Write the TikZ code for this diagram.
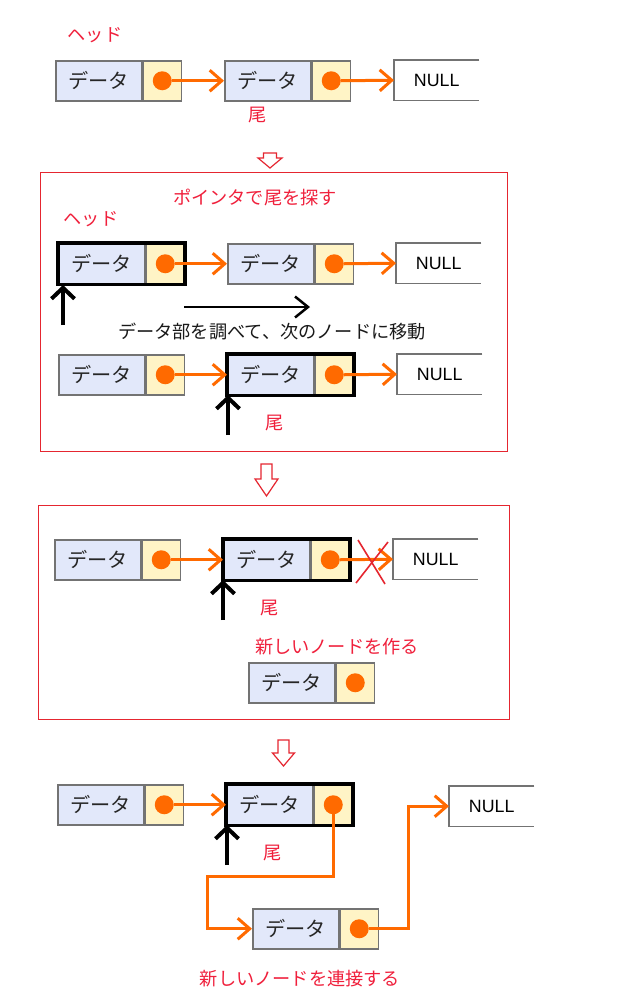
\documentclass[tikz,border=0pt]{standalone}
\usepackage{fontspec}
\setmainfont{Noto Sans CJK JP}
\newfontfamily\arialfont{Liberation Sans}
\usetikzlibrary{arrows.meta,calc}
\definecolor{dpart}{HTML}{E2E8FA}
\definecolor{ppart}{HTML}{FFF4C6}
\definecolor{nborder}{HTML}{737373}
\definecolor{orng}{HTML}{FF6A00}
\definecolor{lblred}{HTML}{F0203C}
\definecolor{framered}{HTML}{E52630}
\tikzset{
  datapart/.style={draw=nborder, line width=1.5pt, fill=dpart, minimum width=86pt, minimum height=40pt,
    anchor=north west, inner sep=0pt, font=\fontsize{20.2}{22}\selectfont, text=black!85},
  ptrpart/.style={draw=nborder, line width=1.5pt, fill=ppart, minimum width=38pt, minimum height=40pt,
    anchor=north west, inner sep=0pt},
  dotc/.style={circle, fill=orng, minimum size=19pt, inner sep=0pt},
  nullbox/.style={fill=white, minimum width=85pt, minimum height=40pt, anchor=north west, inner sep=0pt,
    font=\arialfont\fontsize{17.8}{19}\selectfont},
  nullborder/.style={draw=nborder, line width=1.5pt},
  thickbox/.style={draw=black, line width=3.5pt},
  oarrow/.style={draw=orng, line width=3pt, -{Straight Barb[length=12pt,width=21pt]}},
  uparrow/.style={draw=black, line width=4pt, -{Straight Barb[length=11pt,width=23pt]}},
  mvarrow/.style={draw=black, line width=2.5pt, -{Straight Barb[length=13pt,width=21pt]}},
  lbl/.style={text=lblred, font=\fontsize{18.2}{20}\selectfont, inner sep=0pt},
  blk/.style={text=black!90, font=\fontsize{18.2}{20}\selectfont, inner sep=0pt},
  frame/.style={draw=framered, line width=1pt},
  hollow/.style={draw=framered, line width=1.2pt, fill=white, line join=miter},
  cross/.style={draw=framered, line width=1.6pt}
}
\newcommand\llnode[3]{%
  \node[datapart] (#1d) at (#2,#3) {データ};
  \node[ptrpart] (#1p) at (#1d.north east) {};
  \node[dotc] (#1c) at (#1p.center) {};
}
\newcommand\nullnode[3]{%
  \node[nullbox] (#1) at (#2,#3) {NULL};
  \draw[nullborder] (#1.north east) -- (#1.north west) -- (#1.south west) -- (#1.south east);
}
\newcommand\hollowdown[6]{% cx, top, shaft half, head y, head half, tip y
  \draw[hollow] (#1-#3,#2) -- (#1+#3,#2) -- (#1+#3,#4) -- (#1+#5,#4) -- (#1,#6)
     -- (#1-#5,#4) -- (#1-#3,#4) -- cycle;
}
\begin{document}
\begin{tikzpicture}[x=1pt,y=-1pt]
\useasboundingbox (0,0) rectangle (641,999);
\fill[white] (0,0) rectangle (641,999);

% ---------- Row 1 ----------
\node[lbl] (head1) at (95,35) {ヘッド};
\llnode{a1}{55}{60}
\llnode{a2}{224}{60}
\nullnode{anull}{394}{60}
\draw[oarrow] (a1c.east) -- (a2d.west);
\draw[oarrow] (a2c.east) -- (anull.west);
\node[lbl] (tail1) at (258,115) {尾};

\hollowdown{270}{153}{6.5}{158}{12}{168}

% ---------- Box 1 ----------
\draw[frame] (40,172) rectangle (507,451);
\node[lbl] (title1) at (255,198) {ポインタで尾を探す};
\node[lbl] (head2) at (91,219) {ヘッド};
\llnode{b1}{58}{243}
\llnode{b2}{227}{243}
\nullnode{bnull}{396}{243}
\draw[thickbox] (b1d.north west) rectangle (b1p.south east);
\draw[oarrow] (b1c.east) -- (b2d.west);
\draw[oarrow] (b2c.east) -- (bnull.west);
\coordinate (bup) at (63,325);
\draw[uparrow] (bup) -- (bup |- 0,285);
\coordinate (mvs) at (184,307);
\coordinate (mve) at (310,307);
\draw[mvarrow] (mvs) -- (mve);
\node[blk] (movetxt) at (272,332) {データ部を調べて、次のノードに移動};

\llnode{c1}{58}{354}
\llnode{c2}{227}{354}
\nullnode{cnull}{397}{354}
\draw[thickbox] (c2d.north west) rectangle (c2p.south east);
\draw[oarrow] (c1c.east) -- (c2d.west);
\draw[oarrow] (c2c.east) -- (cnull.west);
\coordinate (cup) at (228,435);
\draw[uparrow] (cup) -- (cup |- 0,395);
\node[lbl] (tail2) at (275,423) {尾};

\hollowdown{266.5}{464}{5.5}{479}{11.5}{496}

% ---------- Box 2 ----------
\draw[frame] (38,505) rectangle (509,719);
\llnode{d1}{54}{539}
\llnode{d2}{223}{539}
\nullnode{dnull}{393}{539}
\draw[thickbox] (d2d.north west) rectangle (d2p.south east);
\draw[oarrow] (d1c.east) -- (d2d.west);
\draw[oarrow] (d2c.east) -- (dnull.west);
\draw[cross] (358,540) -- (385,584);
\draw[cross] (388,542) -- (356,583);
\coordinate (dup) at (223,620);
\draw[uparrow] (dup) -- (dup |- 0,580);
\node[lbl] (tail3) at (270,608) {尾};
\node[lbl] (newtxt) at (337,647) {新しいノードを作る};
\llnode{dn}{248}{662}

\hollowdown{283.5}{740}{5.5}{753}{11}{766}

% ---------- Row 4 ----------
\llnode{e1}{57}{784}
\llnode{e2}{226}{784}
\nullnode{enull}{449}{786}
\draw[thickbox] (e2d.north west) rectangle (e2p.south east);
\draw[oarrow] (e1c.east) -- (e2d.west);
\coordinate (eup) at (227,865);
\draw[uparrow] (eup) -- (eup |- 0,825);
\node[lbl] (tail4) at (273,853) {尾};
\llnode{nw}{252}{908}
\coordinate (bendA) at (207,876);
\coordinate (bendB) at (408,900);
\draw[oarrow] (e2c.south) |- (bendA) |- (nwd.west);
\draw[oarrow] (nwc.east) -| (bendB) |- (enull.west);
\node[lbl] (final) at (300,979) {新しいノードを連接する};
\end{tikzpicture}
\end{document}
